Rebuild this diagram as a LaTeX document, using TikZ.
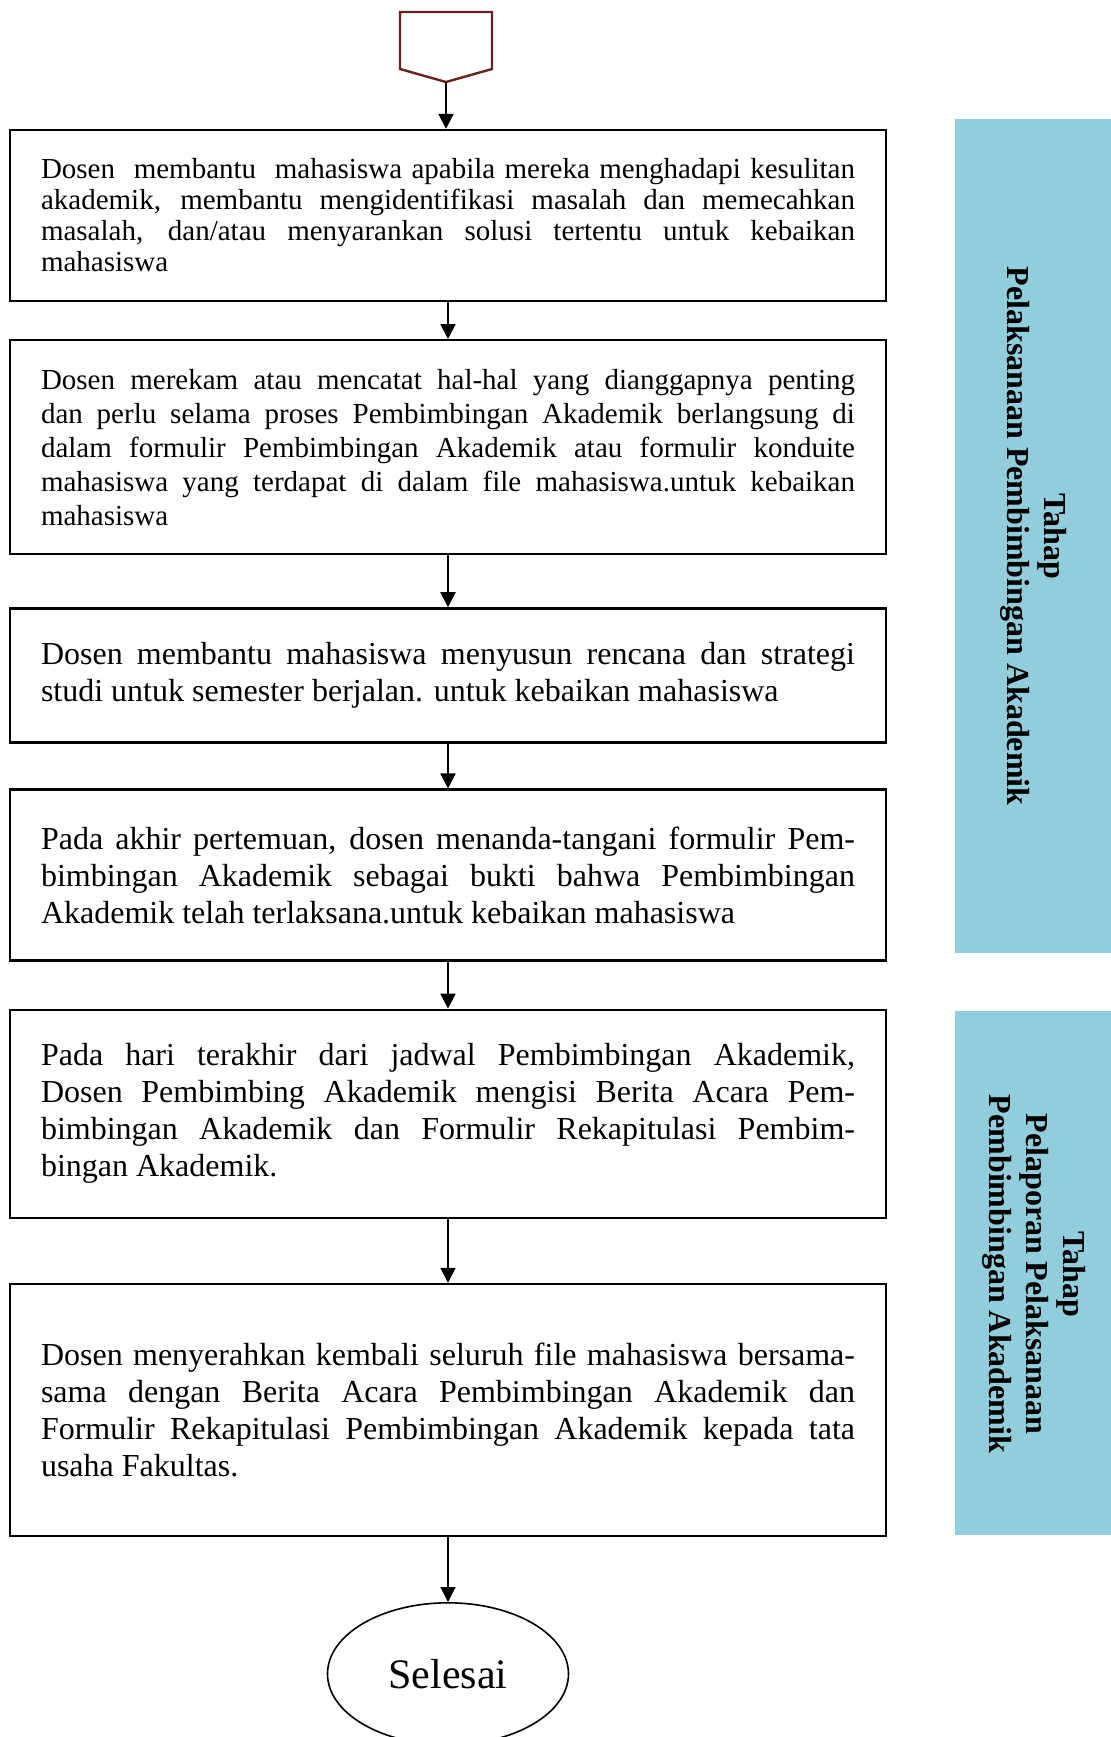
\documentclass[tikz,border=0pt]{standalone}
\usepackage{fontspec}
\setmainfont{Liberation Serif}
\usetikzlibrary{positioning,shapes.geometric,arrows.meta}
\definecolor{barblue}{HTML}{92CDDC}
\definecolor{startred}{HTML}{632423}

\begin{document}
\begin{tikzpicture}[
    stepbox/.style={draw, line width=1.2pt, minimum width=438pt, text width=407pt,
      align=justify, inner xsep=15.5pt, inner ysep=0pt},
    smalltext/.style={font=\fontsize{14.5}{15.5}\selectfont},
    bigtext/.style={font=\fontsize{16}{18.5}\selectfont},
    flow/.style={line width=1pt, -{Triangle[length=7.5pt,width=7.5pt]}},
    phase/.style={fill=barblue, draw=none},
    phasetext/.style={rotate=-90, align=center, font=\fontsize{16}{18.5}\selectfont\bfseries},
  ]
  \useasboundingbox (0,0) rectangle (555.5pt,-868.5pt);

  % start connector
  \draw[startred, line width=1.2pt] (200pt,-6pt) -- (246pt,-6pt) -- (246pt,-34.5pt)
    -- (223pt,-41pt) -- (200pt,-34.5pt) -- cycle;
  \coordinate (start) at (223pt,-41pt);

  % steps
  \node[stepbox, smalltext, minimum height=85.5pt] (b1) at (224pt,-107.75pt)
    {Dosen \ membantu \ mahasiswa apabila mereka menghadapi kesulitan\linebreak
     akademik, membantu mengidentifikasi masalah dan memecahkan\linebreak
     masalah, dan/atau menyarankan solusi tertentu untuk kebaikan\linebreak
     mahasiswa};
  \node[stepbox, font=\fontsize{14.5}{17}\selectfont, minimum height=107pt, below=18.4pt of b1] (b2)
    {Dosen merekam atau mencatat hal-hal yang dianggapnya penting\linebreak
     dan perlu selama proses Pembimbingan Akademik berlangsung di\linebreak
     dalam formulir Pembimbingan Akademik atau formulir konduite\linebreak
     mahasiswa yang terdapat di dalam file mahasiswa.untuk kebaikan\linebreak
     mahasiswa};
  \node[stepbox, bigtext, minimum height=67pt, below=25.9pt of b2] (b3)
    {Dosen membantu mahasiswa menyusun rencana dan strategi\linebreak
     studi untuk semester berjalan. untuk kebaikan mahasiswa};
  \node[stepbox, bigtext, minimum height=85.5pt, below=22.4pt of b3] (b4)
    {Pada akhir pertemuan, dosen menanda-tangani formulir Pem-\linebreak
     bimbingan Akademik sebagai bukti bahwa Pembimbingan\linebreak
     Akademik telah terlaksana.untuk kebaikan mahasiswa};
  \node[stepbox, bigtext, minimum height=104pt, below=23.4pt of b4] (b5)
    {Pada hari terakhir dari jadwal Pembimbingan Akademik,\linebreak
     Dosen Pembimbing Akademik mengisi Berita Acara Pem-\linebreak
     bimbingan Akademik dan Formulir Rekapitulasi Pembim-\linebreak
     bingan Akademik.};
  \node[stepbox, bigtext, minimum height=126pt, below=31.9pt of b5] (b6)
    {Dosen menyerahkan kembali seluruh file mahasiswa bersama-\linebreak
     sama dengan Berita Acara Pembimbingan Akademik dan\linebreak
     Formulir Rekapitulasi Pembimbingan Akademik kepada tata\linebreak
     usaha Fakultas.};
  \node[ellipse, draw, line width=0.8pt, minimum width=120.5pt, minimum height=71pt,
    font=\fontsize{21}{24}\selectfont, below=32.4pt of b6] (end) {Selesai};

  \draw[flow] (start) -- (start |- b1.north);
  \draw[flow] (b1) -- (b2);
  \draw[flow] (b2) -- (b3);
  \draw[flow] (b3) -- (b4);
  \draw[flow] (b4) -- (b5);
  \draw[flow] (b5) -- (b6);
  \draw[flow] (b6) -- (end);

  % phase bars
  \path[phase] (477.5pt,-59.5pt) rectangle (555.5pt,-476.5pt);
  \node[phasetext] (p1) at (517pt,-268pt) {Tahap\\Pelaksanaan Pembimbingan Akademik};
  \path[phase] (477.5pt,-505.5pt) rectangle (555.5pt,-767.5pt);
  \node[phasetext] (p2) at (517pt,-637pt) {Tahap\\Pelaporan Pelaksanaan\\Pembimbingan Akademik};
\end{tikzpicture}
\end{document}
